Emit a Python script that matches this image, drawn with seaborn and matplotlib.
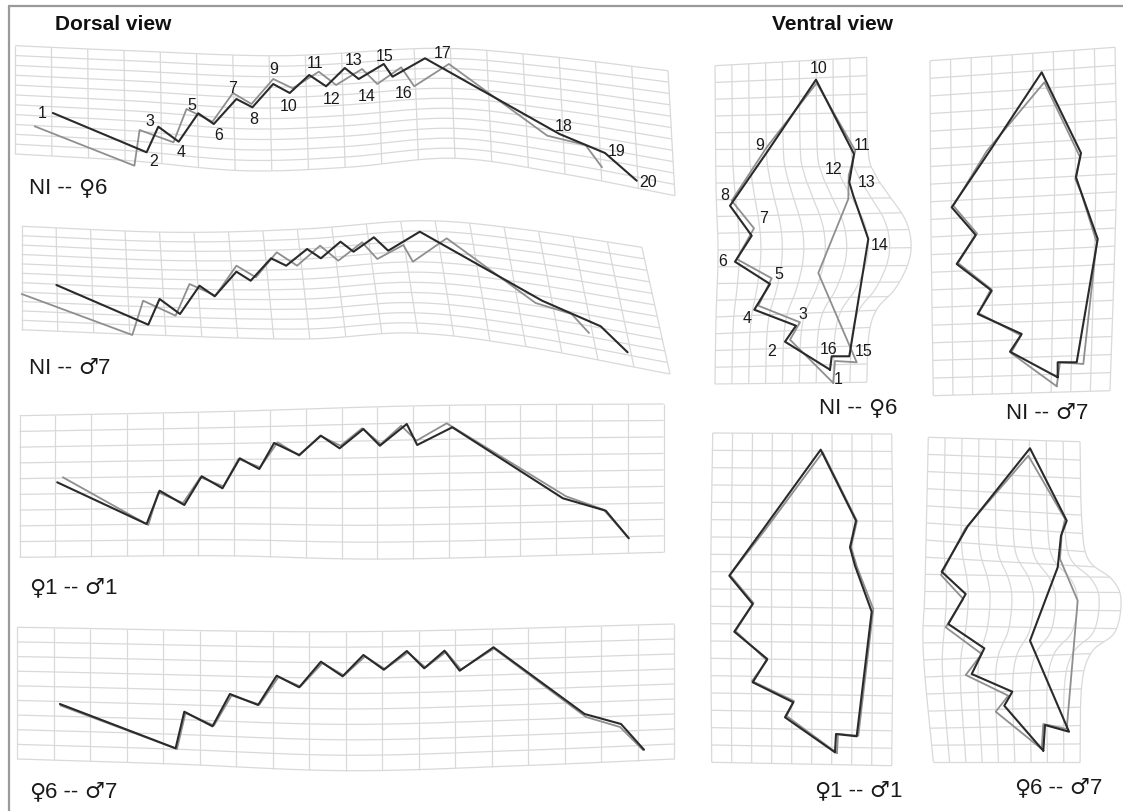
import numpy as np
import pandas as pd
import matplotlib
matplotlib.use("Agg")
import matplotlib.pyplot as plt
from matplotlib.collections import LineCollection
import seaborn as sns

# ---------------- DATA (pixel coordinates) ----------------
# Dorsal view: 20 landmarks, open outline
d1_dark_x = [52.9,146.6,158.3,178.7,198.2,213.8,236.4,252.4,273.2,289.7,309.2,326.1,344.8,358.7,383.8,392.5,425.0,559.5,605.0,636.7]
d1_dark_y = [114.0,153.3,127.7,142.7,114.3,125.0,100.0,108.3,85.0,94.0,76.0,87.3,69.0,80.0,65.0,77.7,59.3,135.0,154.0,181.7]
d1_gray_x = [34.7,134.4,139.6,173.5,186.5,212.5,232.9,251.5,273.2,292.7,318.8,336.1,362.1,377.3,401.2,414.2,448.9,547.3,585.5,602.0]
d1_gray_y = [127.3,166.7,131.0,143.3,110.0,122.7,94.0,105.0,80.0,89.3,72.7,86.0,70.0,85.0,68.3,87.3,65.0,136.7,146.0,168.3]

d2_dark_x = [56.4,148.3,159.6,180.0,199.5,214.7,236.4,250.7,271.1,286.2,307.1,320.9,340.5,353.5,373.9,388.2,419.8,542.1,600.7,627.6]
d2_dark_y = [286.0,325.7,300.0,315.0,286.7,297.3,272.7,281.7,259.3,266.7,250.0,259.3,242.7,252.7,238.3,251.7,232.7,301.7,327.3,353.3]
d2_gray_x = [21.7,132.3,143.1,175.6,189.5,215.5,236.4,255.9,276.7,297.1,320.1,338.3,362.1,377.3,403.3,412.9,446.7,535.6,571.6,589.0]
d2_gray_y = [295.0,336.0,301.7,316.7,285.0,296.7,266.7,278.3,253.3,266.7,246.7,261.7,243.3,260.0,246.0,262.7,239.3,304.0,315.0,334.0]

d3_dark_x = [57.2,146.6,159.6,184.3,201.7,222.5,239.8,259.3,274.1,299.2,320.9,339.6,363.4,379.9,406.8,417.2,452.3,562.9,605.8,628.8]
d3_dark_y = [483.3,525.0,491.7,506.0,477.3,489.3,459.3,470.0,444.0,456.0,436.7,449.3,430.0,446.7,425.0,446.0,428.3,499.3,511.7,539.3]
d3_gray_x = [62.9,148.3,158.3,183.0,200.4,223.4,238.5,260.2,277.6,299.2,320.1,340.5,362.1,380.8,401.2,416.4,446.7,566.0,603.7,628.0]
d3_gray_y = [478.3,526.0,493.3,504.0,478.3,487.3,460.0,468.3,443.3,456.7,436.7,446.7,429.3,445.0,426.7,441.7,424.3,497.3,510.7,538.3]

d4_dark_x = [59.9,175.6,184.3,212.5,229.9,258.1,276.7,299.2,320.9,342.6,363.4,383.8,406.8,424.2,444.5,459.7,493.5,584.6,621.0,644.0]
d4_dark_y = [705.0,749.3,712.7,727.3,695.0,706.0,676.7,688.3,662.7,677.3,656.0,670.7,652.0,669.3,651.7,671.7,648.3,715.0,725.0,750.7]
d4_gray_x = [60.5,177.0,185.5,214.0,231.5,259.5,278.5,300.5,322.5,344.0,365.0,385.0,408.0,425.5,446.0,461.0,494.0,586.0,620.0,643.0]
d4_gray_y = [706.5,750.0,714.0,726.5,696.5,705.5,678.0,687.5,664.0,676.5,657.5,670.0,653.5,668.5,653.0,670.5,649.5,718.0,728.0,751.0]

# Ventral view: 16 landmarks, closed outline
v1_dark_x = [830.0,785.0,796.0,754.3,770.0,735.0,751.7,730.0,767.3,816.0,854.0,849.3,853.3,868.3,849.3,831.7]
v1_dark_y = [370.7,342.7,326.7,310.7,285.0,262.7,236.7,206.7,152.7,80.7,155.0,183.3,196.7,240.0,357.3,357.3]
v1_gray_x = [833.3,790.0,800.0,758.3,771.7,736.7,754.0,731.7,766.7,816.7,855.3,848.7,848.3,818.3,856.7,835.0]
v1_gray_y = [384.0,340.7,323.3,306.7,279.3,260.0,229.3,201.7,148.3,84.0,151.7,176.7,200.0,274.0,363.3,362.0]

v2_dark_x = [1057.7,1010.0,1021.7,977.7,991.7,956.7,975.7,951.7,991.0,1041.7,1081.0,1076.0,1080.0,1097.7,1076.7,1057.7]
v2_dark_y = [378.3,352.7,335.0,315.0,291.7,265.0,236.0,208.3,150.0,73.3,154.0,178.3,190.0,240.0,363.3,363.3]
v2_gray_x = [1056.7,1011.0,1021.0,978.3,991.0,958.0,977.0,953.3,987.0,1044.3,1080.0,1075.3,1081.0,1096.7,1083.3,1060.0]
v2_gray_y = [387.3,354.0,336.5,314.0,290.0,264.0,234.5,206.7,151.7,83.3,158.0,180.0,193.3,243.3,365.0,363.3]

v3_dark_x = [835.0,785.0,793.3,752.7,767.3,734.3,752.7,729.3,763.3,820.7,856.0,850.0,855.0,871.7,856.7,836.0]
v3_dark_y = [753.3,718.3,703.3,683.3,660.0,632.7,605.0,576.7,530.0,450.7,521.7,548.3,566.7,612.7,737.3,735.0]
v3_gray_x = [837.0,786.5,794.0,752.0,767.0,735.5,753.5,730.0,765.0,822.7,857.0,851.0,857.0,873.3,858.3,838.0]
v3_gray_y = [754.0,717.0,702.0,682.0,661.5,632.0,604.0,576.0,531.0,453.3,522.0,548.0,568.0,610.0,736.7,735.0]

v4_dark_x = [1043.3,1004.3,1012.3,971.7,984.3,948.3,965.7,941.7,967.7,1030.0,1066.7,1061.0,1057.7,1030.0,1069.0,1045.0]
v4_dark_y = [751.7,706.7,692.7,675.0,649.3,625.0,595.0,572.7,527.3,449.3,521.7,536.7,568.3,641.7,732.7,726.0]
v4_gray_x = [1041.7,995.7,1008.3,965.7,981.7,945.7,963.3,941.0,965.0,1028.3,1065.0,1061.7,1060.0,1077.7,1066.7,1043.3]
v4_gray_y = [750.0,712.7,696.7,676.0,655.0,628.3,600.0,576.0,530.0,456.7,520.0,535.0,560.0,601.7,730.0,725.0]

# Deformation-grid boundaries (dorsal: top & bottom edges; ventral: left & right edges)
g_d1_top_x = [15.2,130,282,434,542,668];      g_d1_top_y = [46.7,51.7,56.7,49.3,56.7,71.7]
g_d1_bot_x = [15.2,130,243,347,455,564,675];  g_d1_bot_y = [155,161.7,171.7,168.3,159.3,175,196.7]
g_d2_top_x = [21.7,173.5,303.6,420.7,520.4,641.9]; g_d2_top_y = [227.3,233.3,230,221.7,230,248.3]
g_d2_bot_x = [21.7,151.8,303.6,412,520.4,670];     g_d2_bot_y = [330.7,336,340,334,346.7,375]
g_d3_top_x = [19.5,216.9,433.7,663.6];        g_d3_top_y = [416.7,412.7,406.5,405]
g_d3_bot_x = [19.5,216.9,390.3,663.6];        g_d3_bot_y = [558.3,556.7,560,553.3]
g_d4_top_x = [17.3,347,674.4];                g_d4_top_y = [628.3,632.7,625]
g_d4_bot_x = [17.3,173.5,347,520,674.4];      g_d4_bot_y = [760,765,771.7,766.7,760]

g_v1_left_x = [715,716,718,716,715];          g_v1_left_y = [66.7,186.7,253.3,320,385]
g_v1_right_x = [866.7,868,875,888,905,911,908,895,877,869,866.7]
g_v1_right_y = [58.3,150,175,195,220,243,265,290,310,335,383.3]
g_v2_left_x = [930,931,933.3];                g_v2_left_y = [61.7,230,396.7]
g_v2_right_x = [1115,1116.7,1114.3,1110];     g_v2_right_y = [48.3,163.3,263.3,391.7]
g_v3_left_x = [712.7,710.7,711.7];            g_v3_left_y = [434,586.7,763.3]
g_v3_right_x = [891.7,893.3,891.7];           g_v3_right_y = [435,586.7,766.7]
g_v4_left_x = [928.3,925,923.3,933.3];        g_v4_left_y = [438.3,586.7,653.3,763.3]
g_v4_right_x = [1080,1081.7,1088,1111.7,1121,1115,1091.7,1081.7,1080]
g_v4_right_y = [442.7,520,560,580,600,633,653,686.7,763.3]

FEMALE, MALE = "\u2640", "\u2642"
# comparison labels as (left group, right group)
dorsal_pairs = [("NI", FEMALE + "6"), ("NI", MALE + "7"), (FEMALE + "1", MALE + "1"), (FEMALE + "6", MALE + "7")]
ventral_pairs = dorsal_pairs
landmark_numbers_d = [str(i) for i in range(1, 21)]
landmark_numbers_v = [str(i) for i in range(1, 17)]

# ---------------- LAYOUT ----------------
d_num_pos = [(42,113),(154,162),(149.6,121.7),(181.3,152.7),(192,105),(219,135),(233,88.3),
             (253.7,120),(274,70),(288.4,106.7),(315.3,64),(331.8,99.3),(353.5,60.7),(366.5,96.7),
             (385,56.7),(403.3,93.3),(442.4,53.3),(563.8,126.7),(616.7,151.7),(648.4,182.7)]
v_num_pos = [(838.3,380),(771.7,351.7),(803.3,315),(746.7,318.3),(779.3,275),(722.3,261.7),
             (764,218.3),(725,196),(760,145),(818.3,68.3),(861.7,145),(834,170),(866.7,182.7),
             (880,245),(863.3,351.7),(828.3,350)]
d_label_pos = [(29,188),(29,368),(29,588),(29,792)]
v_label_pos = [(858,408),(1047,413),(858,791),(1058,788)]

DARK = "#2a2a2a"
GRAY = "#8f8f8f"
GRID = "#d9d9d9"
TXT = "#1a1a1a"

sns.set_theme(style="white")
plt.rcParams["font.family"] = ["Liberation Sans", "DejaVu Sans"]

fig = plt.figure(figsize=(11.23, 8.12), dpi=100)
ax = fig.add_axes([0, 0, 1, 1])
ax.set_xlim(0, 1123)
ax.set_ylim(812, 0)
ax.axis("off")


def smooth(xs, ys, n=24):
    """Catmull-Rom sampling through the control points."""
    P = np.column_stack([xs, ys]).astype(float)
    if len(P) < 3:
        return P[:, 0], P[:, 1]
    Q = np.vstack([2 * P[0] - P[1], P, 2 * P[-1] - P[-2]])
    out = []
    for i in range(1, len(Q) - 2):
        p0, p1, p2, p3 = Q[i - 1], Q[i], Q[i + 1], Q[i + 2]
        t = np.linspace(0, 1, n, endpoint=False)[:, None]
        out.append(0.5 * ((2 * p1) + (-p0 + p2) * t + (2 * p0 - 5 * p1 + 4 * p2 - p3) * t ** 2
                          + (-p0 + 3 * p1 - 3 * p2 + p3) * t ** 3))
    out.append(P[-1][None, :])
    S = np.vstack(out)
    return S[:, 0], S[:, 1]


def param_curve(xs, ys, by=None):
    xs, ys = smooth(xs, ys)
    if by == "x":
        d = xs - xs[0]
    elif by == "y":
        d = ys - ys[0]
    else:
        d = np.r_[0, np.cumsum(np.hypot(np.diff(xs), np.diff(ys)))]
    t = d / d[-1]
    return lambda s: np.stack([np.interp(s, t, xs), np.interp(s, t, ys)], -1)


def coons_grid(top, bot, left, right, ncols, nrows, nsamp=90):
    P00, P10 = top(0.0), top(1.0)
    P01, P11 = bot(0.0), bot(1.0)

    def P(u, v):
        U = u[:, None]; V = v[:, None]
        return ((1 - V) * top(u) + V * bot(u) + (1 - U) * left(v) + U * right(v) -
                ((1 - U) * (1 - V) * P00 + U * (1 - V) * P10 +
                 (1 - U) * V * P01 + U * V * P11))
    segs = []
    s = np.linspace(0, 1, nsamp)
    for u in np.linspace(0, 1, ncols + 1):
        segs.append(P(np.full_like(s, u), s))
    for v in np.linspace(0, 1, nrows + 1):
        segs.append(P(s, np.full_like(s, v)))
    return segs


def dorsal_grid(tx, ty, bx, by, ncols, nrows):
    top = param_curve(tx, ty, "x"); bot = param_curve(bx, by, "x")
    left = param_curve([tx[0], bx[0]], [ty[0], by[0]])
    right = param_curve([tx[-1], bx[-1]], [ty[-1], by[-1]])
    return coons_grid(top, bot, left, right, ncols, nrows)


def ventral_grid(lx, ly, rx, ry, ncols, nrows):
    left = param_curve(lx, ly); right = param_curve(rx, ry)
    top = param_curve([lx[0], rx[0]], [ly[0], ry[0]])
    bot = param_curve([lx[-1], rx[-1]], [ly[-1], ry[-1]])
    return coons_grid(top, bot, left, right, ncols, nrows)


grids = [
    dorsal_grid(g_d1_top_x, g_d1_top_y, g_d1_bot_x, g_d1_bot_y, 18, 11),
    dorsal_grid(g_d2_top_x, g_d2_top_y, g_d2_bot_x, g_d2_bot_y, 18, 11),
    dorsal_grid(g_d3_top_x, g_d3_top_y, g_d3_bot_x, g_d3_bot_y, 18, 9),
    dorsal_grid(g_d4_top_x, g_d4_top_y, g_d4_bot_x, g_d4_bot_y, 18, 9),
    ventral_grid(g_v1_left_x, g_v1_left_y, g_v1_right_x, g_v1_right_y, 9, 19),
    ventral_grid(g_v2_left_x, g_v2_left_y, g_v2_right_x, g_v2_right_y, 9, 19),
    ventral_grid(g_v3_left_x, g_v3_left_y, g_v3_right_x, g_v3_right_y, 9, 19),
    ventral_grid(g_v4_left_x, g_v4_left_y, g_v4_right_x, g_v4_right_y, 9, 19),
]
for segs in grids:
    ax.add_collection(LineCollection(segs, colors=GRID, linewidths=0.9, zorder=1))


def outline(xs, ys, color, lw, closed, z):
    xs = list(xs); ys = list(ys)
    if closed:
        xs = xs + xs[:1]; ys = ys + ys[:1]
    df = pd.DataFrame({"x": xs, "y": ys})
    sns.lineplot(data=df, x="x", y="y", sort=False, estimator=None, color=color,
                 linewidth=lw, ax=ax, zorder=z, legend=False)


dorsal_sets = [(d1_dark_x, d1_dark_y, d1_gray_x, d1_gray_y),
               (d2_dark_x, d2_dark_y, d2_gray_x, d2_gray_y),
               (d3_dark_x, d3_dark_y, d3_gray_x, d3_gray_y),
               (d4_dark_x, d4_dark_y, d4_gray_x, d4_gray_y)]
ventral_sets = [(v1_dark_x, v1_dark_y, v1_gray_x, v1_gray_y),
                (v2_dark_x, v2_dark_y, v2_gray_x, v2_gray_y),
                (v3_dark_x, v3_dark_y, v3_gray_x, v3_gray_y),
                (v4_dark_x, v4_dark_y, v4_gray_x, v4_gray_y)]

for dx, dy, gx, gy in dorsal_sets:
    outline(gx, gy, GRAY, 1.3, False, 2)
    outline(dx, dy, DARK, 1.5, False, 3)
for dx, dy, gx, gy in ventral_sets:
    outline(gx, gy, GRAY, 1.3, True, 2)
    outline(dx, dy, DARK, 1.5, True, 3)

ax.set_xlim(0, 1123)
ax.set_ylim(812, 0)
ax.axis("off")

# landmark numbers
for lab, (x, y) in zip(landmark_numbers_d, d_num_pos):
    ax.text(x, y, lab, fontsize=11.5, ha="center", va="center", color=TXT, zorder=5)
for lab, (x, y) in zip(landmark_numbers_v, v_num_pos):
    ax.text(x, y, lab, fontsize=11.5, ha="center", va="center", color=TXT, zorder=5)

# panel labels: sex symbols drawn in DejaVu Sans (full-size glyphs), the rest in Liberation Sans
renderer = fig.canvas.get_renderer()
LAB_FS = 16


def split_parts(s):
    parts = []
    for ch in s:
        fam = "DejaVu Sans" if ch in (FEMALE, MALE) else "Liberation Sans"
        if parts and parts[-1][1] == fam:
            parts[-1] = (parts[-1][0] + ch, fam)
        else:
            parts.append((ch, fam))
    return parts


def rich_label(x, y, text, ha):
    parts = split_parts(text)
    widths = []
    for s, fam in parts:
        t = ax.text(0, 0, s, fontsize=LAB_FS, family=fam)
        widths.append(t.get_window_extent(renderer).width)
        t.remove()
    total = sum(widths)
    cx = x - total / 2 if ha == "center" else x
    for (s, fam), w in zip(parts, widths):
        ax.text(cx, y, s, fontsize=LAB_FS, family=fam, ha="left", va="baseline",
                color=TXT, zorder=5)
        cx += w


for (a, b), (x, y) in zip(dorsal_pairs, d_label_pos):
    rich_label(x, y + 6, a + " -- " + b, "left")
for (a, b), (x, y) in zip(ventral_pairs, v_label_pos):
    rich_label(x, y + 6, a + " -- " + b, "center")

# titles
ax.text(55, 25, "Dorsal view", fontsize=15, fontweight="bold", ha="left", va="center", color="#111111")
ax.text(772, 25, "Ventral view", fontsize=15, fontweight="bold", ha="left", va="center", color="#111111")

# frame (top and left edges)
ax.plot([9, 1123], [7, 7], color="#9a9a9a", lw=1.6, zorder=0)
ax.plot([9, 9], [7, 812], color="#9a9a9a", lw=1.6, zorder=0)

fig.savefig("out.png", dpi=100, facecolor="white")
